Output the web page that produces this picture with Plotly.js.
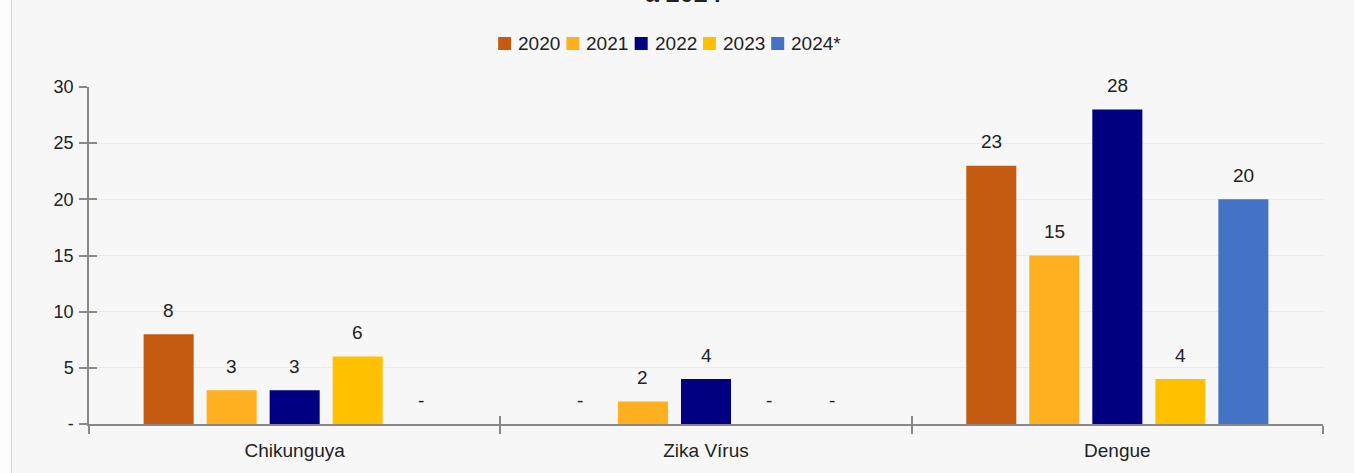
<!DOCTYPE html>
<html>
<head>
<meta charset="utf-8">
<script src="https://cdn.plot.ly/plotly-3.0.1.min.js"></script>
<style>
  html, body { margin:0; padding:0; background:#ffffff; }
  #wrap { width:1354px; height:473px; position:relative; overflow:hidden; background:#fdfdfd; }
  #chart { position:absolute; left:11px; top:0; width:1343px; height:473px; border-left:1px solid #d6d6d6; }
</style>
</head>
<body>
<div id="wrap"><div id="chart"></div></div>
<script>
const categories = ['Chikunguya', 'Zika Vírus', 'Dengue'];
const years = ['2020', '2021', '2022', '2023', '2024*'];
const v2020 = [8, 0, 23];
const v2021 = [3, 2, 15];
const v2022 = [3, 4, 28];
const v2023 = [6, 0, 4];
const v2024 = [0, 0, 20];
const yTickVals = [0, 5, 10, 15, 20, 25, 30];
const yTickText = ['-', '5', '10', '15', '20', '25', '30'];
const colors = ['#C55A11', '#FFB020', '#000080', '#FFC000', '#4472C4'];
const titleText = '<b>a 2024</b>';

const series = [v2020, v2021, v2022, v2023, v2024];
const FONT = 'Liberation Sans, Arial, sans-serif';
const TXT = '#222222';
const bargap = 0.234;
const nSeries = series.length;
const slot = (1 - bargap) / nSeries;

// plot-area geometry (px, relative to the chart div)
const W = 1343, H = 473;
const M = { l: 77, r: 32, t: 87, b: 49 };
const PW = W - M.l - M.r, PH = H - M.t - M.b;
const pxToPaperX = px => (px - M.l) / PW;       // px relative to chart div
const pxToPaperY = py => (H - M.b - py) / PH;

const traces = series.map((vals, j) => ({
  type: 'bar',
  name: years[j],
  x: categories,
  y: vals,
  marker: { color: colors[j] },
  showlegend: false,
  hoverinfo: 'x+y+name'
}));

// dummy trace for overlay axes (tick halves crossing the axis lines)
traces.push({
  type: 'scatter', mode: 'markers', x: categories, y: [0, 0, 0],
  xaxis: 'x2', yaxis: 'y2', marker: { opacity: 0 }, showlegend: false, hoverinfo: 'skip'
});

const annotations = [];
const shapes = [];
series.forEach((vals, j) => {
  vals.forEach((v, i) => {
    annotations.push({
      xref: 'x', yref: 'y',
      x: i + (j - (nSeries - 1) / 2) * slot,
      y: v,
      text: v === 0 ? '-' : String(v),
      showarrow: false,
      yanchor: 'middle',
      yshift: 24,
      font: { family: FONT, size: 19, color: TXT }
    });
  });
});

// title (mostly cut off at the top edge, as in the reference)
annotations.push({
  xref: 'paper', yref: 'paper', x: pxToPaperX(671), y: pxToPaperY(8.6), yanchor: 'bottom', xanchor: 'center',
  text: titleText, showarrow: false,
  font: { family: FONT, size: 25, color: TXT }
});

// compact custom legend
const LFS = 19;
const ctx = document.createElement('canvas').getContext('2d');
ctx.font = LFS + 'px "Liberation Sans"';
const sw = 13, gapST = 6, gapItem = 7;
const widths = years.map(t => ctx.measureText(t).width);
let total = 0;
widths.forEach((w, j) => { total += sw + gapST + w + (j < widths.length - 1 ? gapItem : 0); });
const legendCenter = 657; // px in chart div
let cx = legendCenter - total / 2;
const legY = 43.5;
years.forEach((t, j) => {
  shapes.push({
    type: 'rect', xref: 'paper', yref: 'paper',
    x0: pxToPaperX(cx), x1: pxToPaperX(cx + sw),
    y0: pxToPaperY(legY + sw / 2), y1: pxToPaperY(legY - sw / 2),
    fillcolor: colors[j], line: { width: 0 }
  });
  annotations.push({
    xref: 'paper', yref: 'paper', x: pxToPaperX(cx + sw + gapST), y: pxToPaperY(legY),
    xanchor: 'left', yanchor: 'middle', text: t, showarrow: false, borderpad: 0,
    font: { family: FONT, size: LFS, color: TXT }
  });
  cx += sw + gapST + widths[j] + gapItem;
});

const axisLine = '#888888';
const layout = {
  width: W, height: H,
  paper_bgcolor: '#f7f7f7', plot_bgcolor: '#f7f7f7',
  margin: M,
  font: { family: FONT, size: 18, color: TXT },
  barmode: 'group',
  bargap: bargap,
  bargroupgap: 0.206,
  showlegend: false,
  xaxis: {
    type: 'category', categoryarray: categories, range: [-0.5, 2.5],
    showline: true, linecolor: axisLine, linewidth: 1.5,
    ticks: 'outside', ticklen: 8, tickcolor: axisLine, tickwidth: 1.5,
    tickson: 'boundaries', showgrid: false, zeroline: false,
    ticklabelstandoff: 8,
    tickfont: { family: FONT, size: 19, color: TXT }
  },
  yaxis: {
    range: [0, 30], tickvals: yTickVals, ticktext: yTickText,
    showline: true, linecolor: axisLine, linewidth: 1.5,
    ticks: 'outside', ticklen: 8, tickcolor: axisLine, tickwidth: 1.5,
    showgrid: true, gridcolor: '#ebebeb', gridwidth: 1, zeroline: false,
    ticklabelstandoff: 2,
    tickfont: { family: FONT, size: 18, color: TXT }
  },
  xaxis2: {
    overlaying: 'x', anchor: 'y2', type: 'category', categoryarray: categories,
    range: [-0.5, 2.5], ticks: 'inside', ticklen: 8, tickcolor: axisLine, tickwidth: 1.5,
    tickson: 'boundaries', showticklabels: false, showline: false, showgrid: false, zeroline: false
  },
  yaxis2: {
    overlaying: 'y', anchor: 'x2', side: 'left', range: [0, 30], tickvals: yTickVals,
    ticks: 'inside', ticklen: 8, tickcolor: axisLine, tickwidth: 1.5,
    showticklabels: false, showline: false, showgrid: false, zeroline: false
  },
  annotations: annotations,
  shapes: shapes
};

Plotly.newPlot('chart', traces, layout, { displayModeBar: false });
</script>
</body>
</html>
